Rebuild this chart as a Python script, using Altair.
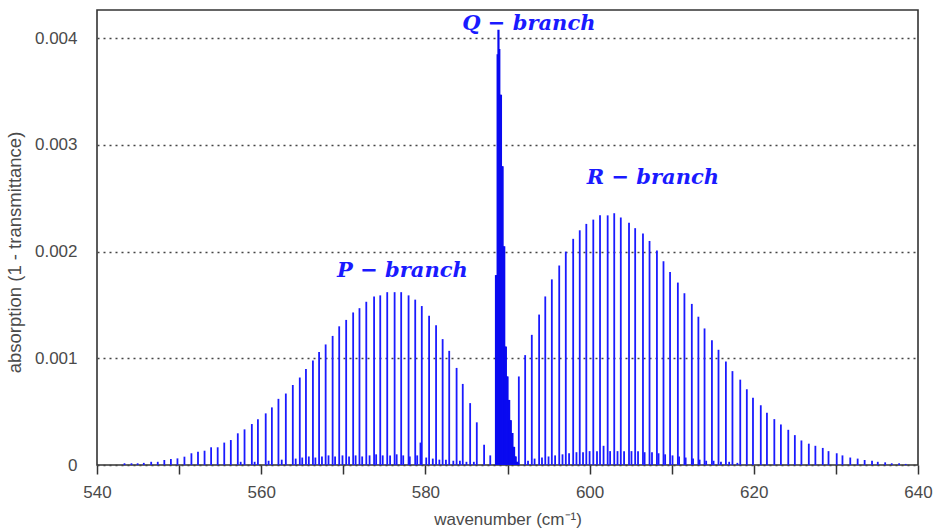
import altair as alt
import pandas as pd

# P-branch lines (wavenumber cm^-1, absorption)
p_wn = [543.35, 544.2, 544.95, 545.7, 546.6, 547.4, 548.2, 549.0, 549.8, 550.65,
        551.5, 552.3, 553.1, 553.9, 554.7, 555.5, 556.3, 557.15, 557.97, 558.86,
        559.6, 560.55, 561.3, 562.1, 563.0, 563.85, 564.7, 565.45, 566.3, 567.05,
        567.85, 568.7, 569.5, 570.35, 571.2, 571.97, 572.8, 573.75, 574.5, 575.35,
        576.25, 577.05, 577.95, 578.76, 579.56, 580.45, 581.3, 582.1, 582.9, 583.8,
        584.55, 585.45, 586.26, 587.15, 587.9]
p_h = [0.000016, 0.000016, 0.000016, 0.00002, 0.00003, 0.00003, 0.000047, 0.000056, 0.000062, 0.000078,
       0.00011, 0.000125, 0.000134, 0.000166, 0.000166, 0.00021, 0.000234, 0.000297, 0.000334, 0.000384,
       0.000428, 0.000484, 0.00054, 0.00062, 0.00067, 0.00075, 0.00082, 0.0009, 0.00098, 0.00106,
       0.00113, 0.00121, 0.0013, 0.00136, 0.00143, 0.00147, 0.00153, 0.00158, 0.00159, 0.00162,
       0.00162, 0.00162, 0.00159, 0.00155, 0.00149, 0.0014, 0.00131, 0.00118, 0.00107, 0.00091,
       0.00076, 0.00058, 0.0004, 0.00019, 0.00009]

# R-branch lines
r_wn = [591.38, 592.15, 592.96, 593.85, 594.6, 595.4, 596.3, 597.1, 598.0, 598.8,
        599.6, 600.45, 601.27, 602.2, 603.0, 603.8, 604.8, 605.55, 606.5, 607.3,
        608.2, 609.0, 609.8, 610.75, 611.55, 612.45, 613.25, 614.0, 614.9, 615.7,
        616.6, 617.4, 618.35, 619.15, 619.9, 620.85, 621.6, 622.5, 623.3, 624.2,
        625.0, 625.8, 626.7, 627.5, 628.4, 629.1, 630.1, 630.8, 631.75, 632.65,
        633.5, 634.4, 635.1, 636.0, 636.8, 637.7, 638.5]
r_h = [0.00083, 0.00103, 0.00122, 0.00141, 0.00158, 0.00174, 0.00187, 0.002, 0.00212, 0.0022,
       0.00226, 0.0023, 0.00234, 0.00234, 0.00236, 0.00232, 0.00227, 0.00222, 0.00217, 0.0021,
       0.00201, 0.00191, 0.00181, 0.00171, 0.00161, 0.00151, 0.00139, 0.00128, 0.00117, 0.00108,
       0.00097, 0.00088, 0.0008, 0.00071, 0.00063, 0.00056, 0.00049, 0.00043, 0.00038, 0.00033,
       0.00028, 0.00023, 0.0002, 0.00018, 0.00016, 0.00013, 0.00011, 0.00009, 0.00007, 0.00006,
       0.000047, 0.00004, 0.00003, 0.000025, 0.000016, 0.000016, 0.00001]

# weak (hot-band) lines near the baseline
w_wn = [557.5, 559.2, 560.9, 562.5, 564.2, 565.0, 565.8, 566.6, 567.4, 568.2,
        569.0, 569.9, 570.7, 571.5, 572.3, 573.2, 574.0, 574.8, 575.7, 576.5,
        577.3, 578.1, 579.0, 579.4, 580.1, 580.9, 581.7, 582.5, 583.4, 584.2,
        585.0, 585.9,
        592.5, 593.3, 594.2, 595.0, 595.8, 596.7, 597.5, 598.4, 599.2, 600.0,
        600.9, 601.7, 602.5, 603.4, 604.2, 605.1, 605.9, 606.7, 607.6, 608.4,
        609.2, 610.1, 610.9, 611.7, 612.6, 613.4, 614.2, 615.1, 616.0, 617.0, 618.0]
w_h = [0.00003, 0.00003, 0.00004, 0.00005, 0.00006, 0.00007, 0.00008, 0.00007, 0.00008, 0.00009,
       0.00008, 0.00009, 0.00008, 0.00009, 0.00008, 0.00009, 0.0001, 0.00009, 0.00009, 0.0001,
       0.00009, 0.00008, 0.00009, 0.00021, 0.00007, 0.00006, 0.00005, 0.00005, 0.00004, 0.00004,
       0.00003, 0.00003,
       0.00004, 0.00006, 0.00007, 0.00008, 0.00009, 0.0001, 0.00011, 0.00012, 0.00012, 0.00013,
       0.00013, 0.00018, 0.00013, 0.00013, 0.00013, 0.00013, 0.00013, 0.00012, 0.00012, 0.00011,
       0.0001, 0.00009, 0.00008, 0.00007, 0.00006, 0.00005, 0.00004, 0.00004, 0.00003, 0.00003, 0.00002]

# Q-branch: densely packed lines
q_wn = [588.6, 588.7, 588.8, 588.9, 589.0, 589.1, 589.2, 589.3, 589.4, 589.5,
        589.6, 589.7, 589.8, 589.9, 590.0, 590.1, 590.2, 590.3, 590.4, 590.5,
        590.6, 590.7, 590.8, 590.9, 591.0, 591.1, 591.2, 591.3]
q_h = [0.00178, 0.00178, 0.00385, 0.00408, 0.00390, 0.00347, 0.00347, 0.00280, 0.00280, 0.00205,
       0.00205, 0.00111, 0.00111, 0.00083, 0.00083, 0.00061, 0.00061, 0.00042, 0.00042, 0.00030,
       0.00030, 0.00017, 0.00017, 0.00008, 0.00008, 0.00003, 0.00003, 0.00002]

# annotations
ann_text = ["Q − branch", "R − branch", "P − branch"]
ann_x = [592.6, 607.7, 577.2]
ann_y = [0.00413, 0.00269, 0.00182]

BLUE = "#1a1aff"
FONT = "Liberation Sans"
GRAY = "#4a4a4a"

lines = pd.DataFrame({
    "wn": p_wn + r_wn + w_wn,
    "h": p_h + r_h + w_h,
})
qdf = pd.DataFrame({"wn": q_wn, "h": q_h})
adf = pd.DataFrame({"t": ann_text, "x": ann_x, "y": ann_y})

xscale = alt.Scale(domain=[540, 640], nice=False, zero=False)
yscale = alt.Scale(domain=[0, 0.004265], nice=False)

xaxis = alt.Axis(
    title="wavenumber (cm⁻¹)",
    values=list(range(540, 641, 10)),
    labelExpr="datum.value % 20 == 0 ? datum.label : ''",
    grid=False, domain=False, labelFlush=False, labelOverlap=False,
    tickSize=9, tickColor="#333333", tickWidth=1.5,
    labelFontSize=17, labelColor=GRAY, labelPadding=10, labelFont=FONT,
    titleFontSize=17, titleColor=GRAY, titleFontWeight="normal", titleFont=FONT,
    titlePadding=11,
)
yaxis = alt.Axis(
    title="absorption (1 - transmittance)",
    values=[0, 0.001, 0.002, 0.003, 0.004],
    labelExpr="datum.value == 0 ? '0' : format(datum.value, '.3f')",
    grid=True, gridDash=[2, 4], gridColor="#444444", gridWidth=1.6,
    domain=False, ticks=False,
    labelFontSize=17, labelColor=GRAY, labelPadding=20, labelFont=FONT,
    titleFontSize=18.5, titleColor=GRAY, titleFontWeight="normal", titleFont=FONT,
    titleX=-73, titleY=242,
)

rules = alt.Chart(lines).mark_rule(color=BLUE, strokeWidth=1.8).encode(
    x=alt.X("wn:Q", scale=xscale, axis=xaxis),
    y=alt.Y("h:Q", scale=yscale, axis=yaxis),
    y2=alt.datum(0),
)

qrules = alt.Chart(qdf).mark_rule(color="#0a0af0", strokeWidth=2.2).encode(
    x=alt.X("wn:Q", scale=xscale),
    y=alt.Y("h:Q", scale=yscale),
    y2=alt.datum(0),
)

texts = alt.Chart(adf).mark_text(
    color=BLUE, font="DejaVu Serif", fontSize=21, fontWeight="bold", fontStyle="italic",
    align="center", baseline="middle",
).encode(
    x=alt.X("x:Q", scale=xscale),
    y=alt.Y("y:Q", scale=yscale),
    text="t:N",
)

chart = alt.layer(rules, qrules, texts).properties(
    width=821, height=455,
    autosize=alt.AutoSizeParams(type="none"),
    padding={"left": 97, "top": 10, "right": 21, "bottom": 67},
    background="white",
).configure_view(stroke="#333333", strokeWidth=1.6)

chart.save("out.html", embed_options={"renderer": "svg", "actions": False})
